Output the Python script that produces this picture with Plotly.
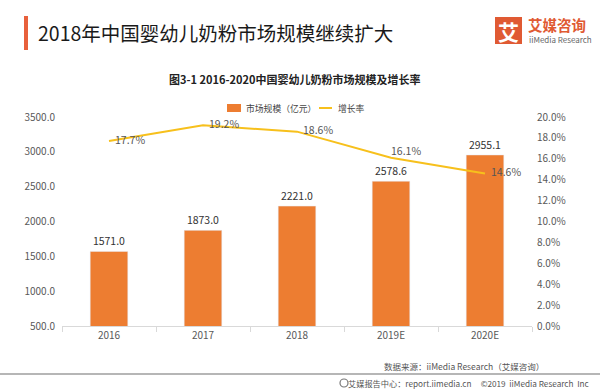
import plotly.graph_objects as go

years = ["2016", "2017", "2018", "2019E", "2020E"]
market_size = [1571.0, 1873.0, 2221.0, 2578.6, 2955.1]
growth_rate = [0.177, 0.192, 0.186, 0.161, 0.146]
growth_pos = ["middle right", "middle right", "middle right", "top right", "middle right"]

W, H = 600, 390
L, R, T, B = 62, 532, 117, 326

def px(x):
    return (x - L) / (R - L)

def py(y):
    return (B - y) / (B - T)

FONT = "Noto Sans CJK SC"
ORANGE = "#ED7D31"
YELLOW = "#F7C01C"

fig = go.Figure()
fig.add_trace(go.Bar(
    x=years, y=market_size, name="市场规模（亿元）",
    marker_color=ORANGE, width=0.4,
    text=[f"{v:.1f}" for v in market_size], textposition="outside",
    textfont=dict(size=10.5, color="#333333", family=FONT),
    cliponaxis=False, showlegend=False,
))
fig.add_trace(go.Scatter(
    x=years, y=growth_rate, name="增长率", yaxis="y2",
    mode="lines+markers+text", line=dict(color=YELLOW, width=2),
    marker=dict(size=[8, 8, 8, 0, 8], opacity=0, color=YELLOW),
    text=[f"{v*100:.1f}%" for v in growth_rate], textposition=growth_pos,
    textfont=dict(size=10.5, color="#555555", family=FONT),
    cliponaxis=False, showlegend=False,
))

shapes = [
    dict(type="rect", xref="paper", yref="paper", x0=px(24), x1=px(28), y0=py(50), y1=py(16),
         fillcolor="#E8603C", line_width=0),
    dict(type="rect", xref="paper", yref="paper", x0=px(495), x1=px(522), y0=py(44), y1=py(17),
         fillcolor="#E05A33", line_width=0),
    dict(type="line", xref="paper", yref="paper", x0=px(0), x1=px(600), y0=py(374), y1=py(374),
         line=dict(color="#9E9E9E", width=1.5)),
    # legend swatches
    dict(type="rect", xref="paper", yref="paper", x0=px(227), x1=px(241), y0=py(112), y1=py(104),
         fillcolor=ORANGE, line_width=0),
    dict(type="line", xref="paper", yref="paper", x0=px(319), x1=px(332), y0=py(108), y1=py(108),
         line=dict(color=YELLOW, width=2)),
    # footer icon
    dict(type="circle", xref="paper", yref="paper", x0=px(340), x1=px(348), y0=py(387), y1=py(379),
         line=dict(color="#777777", width=1.2)),
]

annotations = [
    dict(text="2018年中国婴幼儿奶粉市场规模继续扩大", x=px(36), y=py(33), xref="paper", yref="paper",
         xanchor="left", yanchor="middle", showarrow=False,
         font=dict(size=19.5, color="#1a1a1a", family=FONT)),
    dict(text="<b>艾</b>", x=px(508.5), y=py(30.5), xref="paper", yref="paper",
         xanchor="center", yanchor="middle", showarrow=False,
         font=dict(size=21, color="white", family=FONT)),
    dict(text="<b>艾媒咨询</b>", x=px(526), y=py(24.5), xref="paper", yref="paper",
         xanchor="left", yanchor="middle", showarrow=False,
         font=dict(size=14.5, color="#E05A33", family=FONT)),
    dict(text="iiMedia Research", x=px(527), y=py(40), xref="paper", yref="paper",
         xanchor="left", yanchor="middle", showarrow=False,
         font=dict(size=8, color="#666666", family=FONT)),
    dict(text="<b>图3-1 2016-2020中国婴幼儿奶粉市场规模及增长率</b>", x=px(295), y=py(79), xref="paper", yref="paper",
         xanchor="center", yanchor="middle", showarrow=False,
         font=dict(size=11, color="#222222", family=FONT)),
    dict(text="市场规模（亿元）", x=px(244), y=py(108), xref="paper", yref="paper",
         xanchor="left", yanchor="middle", showarrow=False,
         font=dict(size=8.8, color="#444444", family=FONT)),
    dict(text="增长率", x=px(336), y=py(108), xref="paper", yref="paper",
         xanchor="left", yanchor="middle", showarrow=False,
         font=dict(size=8.8, color="#444444", family=FONT)),
    dict(text="数据来源：iiMedia Research（艾媒咨询）", x=px(546), y=py(366), xref="paper", yref="paper",
         xanchor="right", yanchor="middle", showarrow=False,
         font=dict(size=8.5, color="#555555", family=FONT)),
    dict(text="艾媒报告中心：report.iimedia.cn &nbsp;&nbsp;&nbsp; ©2019  iiMedia Research  Inc", x=px(591), y=py(383), xref="paper", yref="paper",
         xanchor="right", yanchor="middle", showarrow=False,
         font=dict(size=8.2, color="#555555", family=FONT)),
]

fig.update_layout(
    width=W, height=H,
    margin=dict(l=L, r=W - R, t=T, b=H - B, pad=0),
    paper_bgcolor="white", plot_bgcolor="white",
    font=dict(family=FONT, color="#595959"),
    showlegend=False,
    bargap=0.6,
    xaxis=dict(showline=True, linecolor="#D9D9D9", linewidth=1, ticks="outside", tickson="boundaries",
               ticklen=5, tickcolor="#D9D9D9", tickfont=dict(size=10, color="#595959"), showgrid=False),
    yaxis=dict(range=[500, 3500], tickvals=[500, 1000, 1500, 2000, 2500, 3000, 3500],
               ticktext=[f"{v:.1f}" for v in [500, 1000, 1500, 2000, 2500, 3000, 3500]],
               showgrid=False, zeroline=False, tickfont=dict(size=10, color="#595959"), ticks="", ticklabelstandoff=6),
    yaxis2=dict(range=[0, 0.2], overlaying="y", side="right", tickvals=[i * 0.02 for i in range(11)],
                tickformat=".1%", showgrid=False, zeroline=False, tickfont=dict(size=10, color="#595959"), ticklabelstandoff=4),
    shapes=shapes, annotations=annotations,
)

fig.write_html("out.html", config={"displayModeBar": False},
               post_script="document.body.style.margin='0';document.body.style.overflow='hidden';")
